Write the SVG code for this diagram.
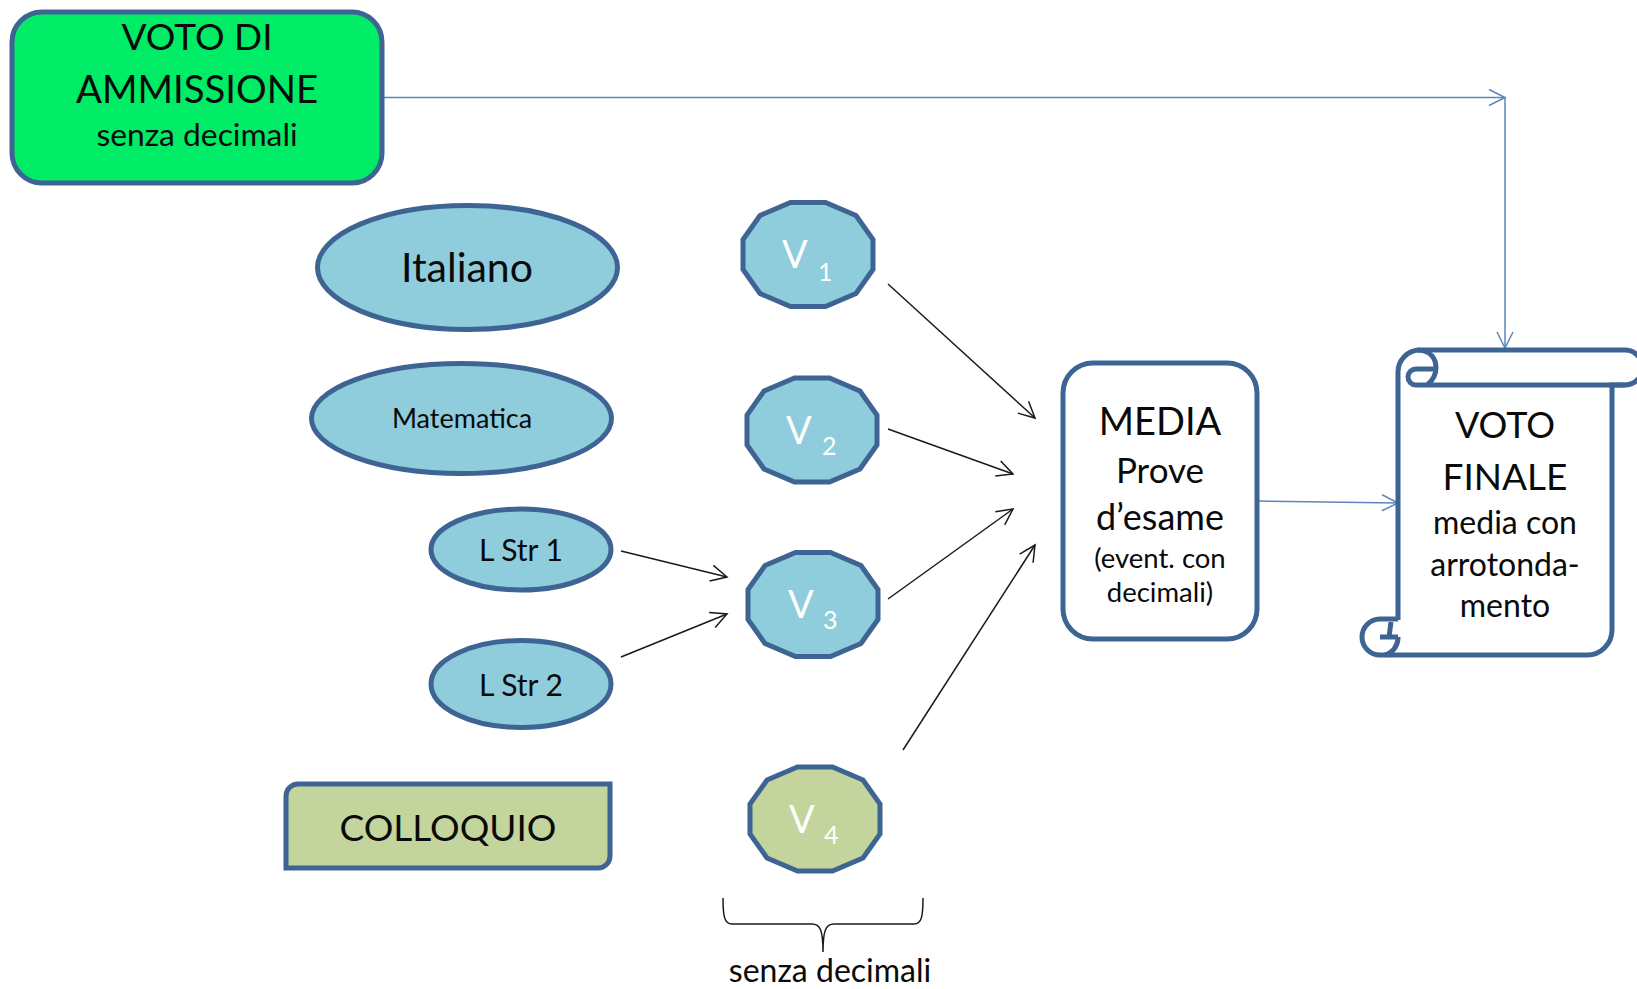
<svg xmlns="http://www.w3.org/2000/svg" width="1637" height="989" viewBox="0 0 1637 989">
<style>
.n{stroke:#3d6492;stroke-width:5}
.b{fill:#8fccdc}
.g{fill:#c3d59d}
text{font-family:Lato,"Liberation Sans",sans-serif;fill:#0a0a0a;text-anchor:middle}
.v{fill:#fff;text-anchor:start;font-size:38px}
.s{fill:#fff;text-anchor:start;font-size:25px}
.c{fill:none;stroke-width:1.5}
.k{stroke:#1a1a1a}
.u{stroke:#5b86bb}
.m{fill:none;stroke:#1a1a1a;stroke-width:1.5}
</style>
<defs>
<marker id="ak" markerUnits="userSpaceOnUse" markerWidth="24" markerHeight="24" refX="18" refY="10" orient="auto"><path d="M2,2L18,10L2,18" fill="none" stroke="#1a1a1a" stroke-width="1.5"/></marker>
<marker id="au" markerUnits="userSpaceOnUse" markerWidth="24" markerHeight="24" refX="18" refY="10" orient="auto"><path d="M2,2L18,10L2,18" fill="none" stroke="#5b86bb" stroke-width="1.5"/></marker>
<polygon id="dod" points="-17.500,-52 17.500,-52 48,-39 65,-15 65,15 48,39 17.500,52 -17.500,52 -48,39 -65,15 -65,-15 -48,-39"/>
</defs>
<rect width="1637" height="989" fill="#fff"/>
<g id="connectors">
<path class="c u" d="M384,97.500H1505" marker-end="url(#au)"/>
<path class="c u" d="M1505,97.500V348" marker-end="url(#au)"/>
<path class="c u" d="M1259,501L1398,503" marker-end="url(#au)"/>
<path class="c k" d="M888,284L1035,418" marker-end="url(#ak)"/>
<path class="c k" d="M888,429L1013,474" marker-end="url(#ak)"/>
<path class="c k" d="M888,599L1013,509" marker-end="url(#ak)"/>
<path class="c k" d="M903,750L1035,545" marker-end="url(#ak)"/>
<path class="c k" d="M621,551L727,577" marker-end="url(#ak)"/>
<path class="c k" d="M621,657L727,614" marker-end="url(#ak)"/>
</g>
<g id="ammissione">
<rect class="n" x="12" y="12" width="370" height="171" rx="30" fill="#00ec67"/>
<text x="197" y="50" font-size="37">VOTO DI</text>
<text x="197" y="103" font-size="38.300">AMMISSIONE</text>
<text x="197" y="146" font-size="31.800">senza decimali</text>
</g>
<g id="italiano"><ellipse class="n b" cx="467.500" cy="267.500" rx="150" ry="62"/><text x="467" y="282" font-size="41">Italiano</text></g>
<g id="matematica"><ellipse class="n b" cx="461.500" cy="418.500" rx="150" ry="55"/><text x="462" y="428" font-size="27">Matematica</text></g>
<g id="lstr1"><ellipse class="n b" cx="521" cy="549.500" rx="90" ry="40.500"/><text x="521" y="561" font-size="30">L Str 1</text></g>
<g id="lstr2"><ellipse class="n b" cx="521" cy="684" rx="90" ry="43.500"/><text x="521" y="696" font-size="30">L Str 2</text></g>
<g id="colloquio"><path class="n g" d="M286,868V796A12,12 0 0 1 298,784H610V856A12,12 0 0 1 598,868Z"/><text x="448" y="841" font-size="37">COLLOQUIO</text></g>
<g id="v1"><use href="#dod" class="n b" x="808" y="254.500"/><text class="v" x="782" y="268">V</text><text class="s" x="818" y="281">1</text></g>
<g id="v2"><use href="#dod" class="n b" x="812" y="430"/><text class="v" x="786" y="444">V</text><text class="s" x="822" y="455">2</text></g>
<g id="v3"><use href="#dod" class="n b" x="813" y="604.500"/><text class="v" x="788" y="618">V</text><text class="s" x="823" y="629">3</text></g>
<g id="v4"><use href="#dod" class="n g" x="815" y="819"/><text class="v" x="789" y="833">V</text><text class="s" x="824" y="844">4</text></g>
<g id="media">
<rect class="n" x="1063" y="363" width="194" height="276" rx="30" fill="#fff"/>
<text x="1160" y="435" font-size="38">MEDIA</text>
<text x="1160" y="483" font-size="35">Prove</text>
<text x="1160" y="530" font-size="36">d’esame</text>
<text x="1160" y="568" font-size="27.500">(event. con</text>
<text x="1160" y="602" font-size="27.500">decimali)</text>
</g>
<g id="finale">
<path class="n" fill="#fff" d="M1398,620V372A22,22 0 0 1 1420,350H1625A17.500,17.500 0 0 1 1625,385H1612V630A25,25 0 0 1 1587,655H1380A18,18 0 0 1 1380,619H1398Z"/>
<path class="n" fill="none" d="M1417,350C1432,350 1436,360 1436,368C1436,376 1432,381 1427,385H1416A8,8 0 0 1 1416,369H1435M1427,385H1625M1391,622L1389,637M1380,637H1398M1385,655A18,18 0 0 0 1398,637"/>
<text x="1505" y="438" font-size="36">VOTO</text>
<text x="1505" y="490" font-size="37">FINALE</text>
<text x="1505" y="534" font-size="32">media con</text>
<text x="1505" y="576" font-size="32">arrotonda-</text>
<text x="1505" y="617" font-size="32">mento</text>
</g>
<g id="brace">
<path class="m" d="M723,898C723,915 724,924 732,924H812C820,924 823,930 823,952C823,930 826,924 834,924H914C922,924 923,915 923,898"/>
<text x="830" y="982" font-size="32">senza decimali</text>
</g>
</svg>
